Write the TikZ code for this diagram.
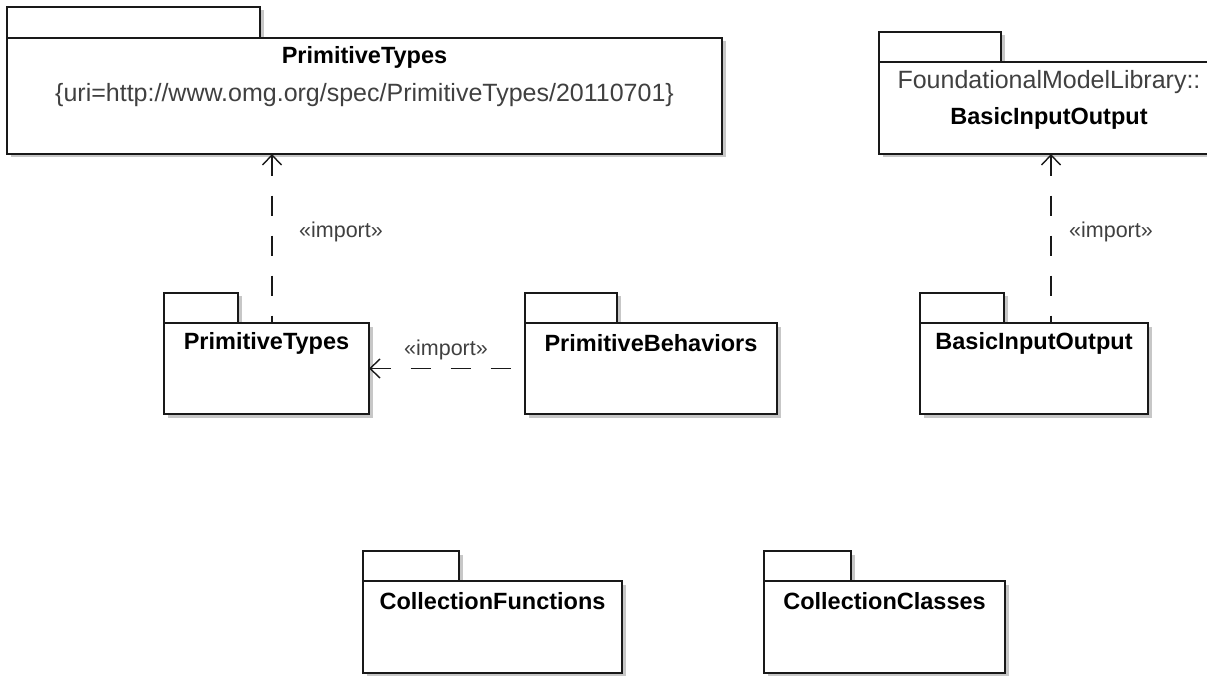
\documentclass[tikz,border=0pt]{standalone}
\usepackage{fontspec}
\setmainfont{Liberation Sans}
\usetikzlibrary{arrows.meta,shadows}
\definecolor{txtgray}{gray}{0.25}
\definecolor{linegray}{gray}{0.1}
\tikzset{
  pkgshadow/.style={drop shadow={shadow xshift=3.5pt,shadow yshift=-3.5pt,fill=black!22,opacity=1}},
  pkgtab/.style={draw=linegray,fill=white,line width=1.6pt,pkgshadow},
  pkgbody/.style={draw=linegray,fill=white,line width=1.6pt,pkgshadow,inner sep=0pt,outer sep=0pt,anchor=north west},
  pkgname/.style={font=\fontsize{23.5}{27}\selectfont\bfseries,text=black,inner sep=0pt},
  pkgtext/.style={font=\fontsize{25}{29}\selectfont,text=txtgray,inner sep=0pt},
  deplabel/.style={font=\fontsize{21.5}{25}\selectfont,text=txtgray,inner sep=0pt},
  dep/.style={draw=linegray,line width=1.6pt,dash pattern=on 20pt off 20pt,{Straight Barb[length=10pt,width=19pt,line width=1.4pt]}-}
}
\begin{document}
\begin{tikzpicture}[x=1pt,y=-1pt]
\useasboundingbox (0,0) rectangle (1207,676);
\clip (0,0) rectangle (1207,676);
% top-left package
\draw[pkgtab] (7,7) rectangle (260,38);
\node[pkgbody,minimum width=715pt,minimum height=116pt] (ptTop) at (7,38) {};
\node[pkgname] (ptTopName) at (364.5,57) {PrimitiveTypes};
\node[pkgtext] (ptTopUri) at (364.5,95) {\{uri=http://www.omg.org/spec/PrimitiveTypes/20110701\}};
% top-right package
\draw[pkgtab] (879,32) rectangle (1001,62);
\node[pkgbody,minimum width=340pt,minimum height=92pt] (bioTop) at (879,62) {};
\node[pkgtext] (bioTopQual) at (1049,82) {FoundationalModelLibrary::};
\node[pkgname] (bioTopName) at (1049,118) {BasicInputOutput};
% PrimitiveTypes
\draw[pkgtab] (164,293) rectangle (238,323);
\node[pkgbody,minimum width=205pt,minimum height=91pt] (pt) at (164,323) {};
\node[pkgname] (ptName) at (266.5,343) {PrimitiveTypes};
% PrimitiveBehaviors
\draw[pkgtab] (525,293) rectangle (617,323);
\node[pkgbody,minimum width=252pt,minimum height=91pt] (pb) at (525,323) {};
\node[pkgname] (pbName) at (651,343) {PrimitiveBehaviors};
% BasicInputOutput
\draw[pkgtab] (920,293) rectangle (1004,323);
\node[pkgbody,minimum width=228pt,minimum height=91pt] (bio) at (920,323) {};
\node[pkgname] (bioName) at (1034,343) {BasicInputOutput};
% CollectionFunctions
\draw[pkgtab] (363,551) rectangle (459,581);
\node[pkgbody,minimum width=259pt,minimum height=92pt] (cf) at (363,581) {};
\node[pkgname] (cfName) at (492.5,601) {CollectionFunctions};
% CollectionClasses
\draw[pkgtab] (764,551) rectangle (851,581);
\node[pkgbody,minimum width=241pt,minimum height=92pt] (cc) at (764,581) {};
\node[pkgname] (ccName) at (884.5,601) {CollectionClasses};
% dependencies
\coordinate (ptIn) at ([xshift=5.5pt]pt.north);
\coordinate (bioIn) at ([xshift=17pt]bio.north);
\draw[dep] (ptIn |- ptTop.south) -- (ptIn);
\draw[dep] (bioIn |- bioTop.south) -- (bioIn);
\draw[dep] (pt.east) -- (pb.west);
\node[deplabel] (imp1) at (341,232) {«import»};
\node[deplabel] (imp2) at (1111,232) {«import»};
\node[deplabel] (imp3) at (446,350) {«import»};
\end{tikzpicture}
\end{document}
